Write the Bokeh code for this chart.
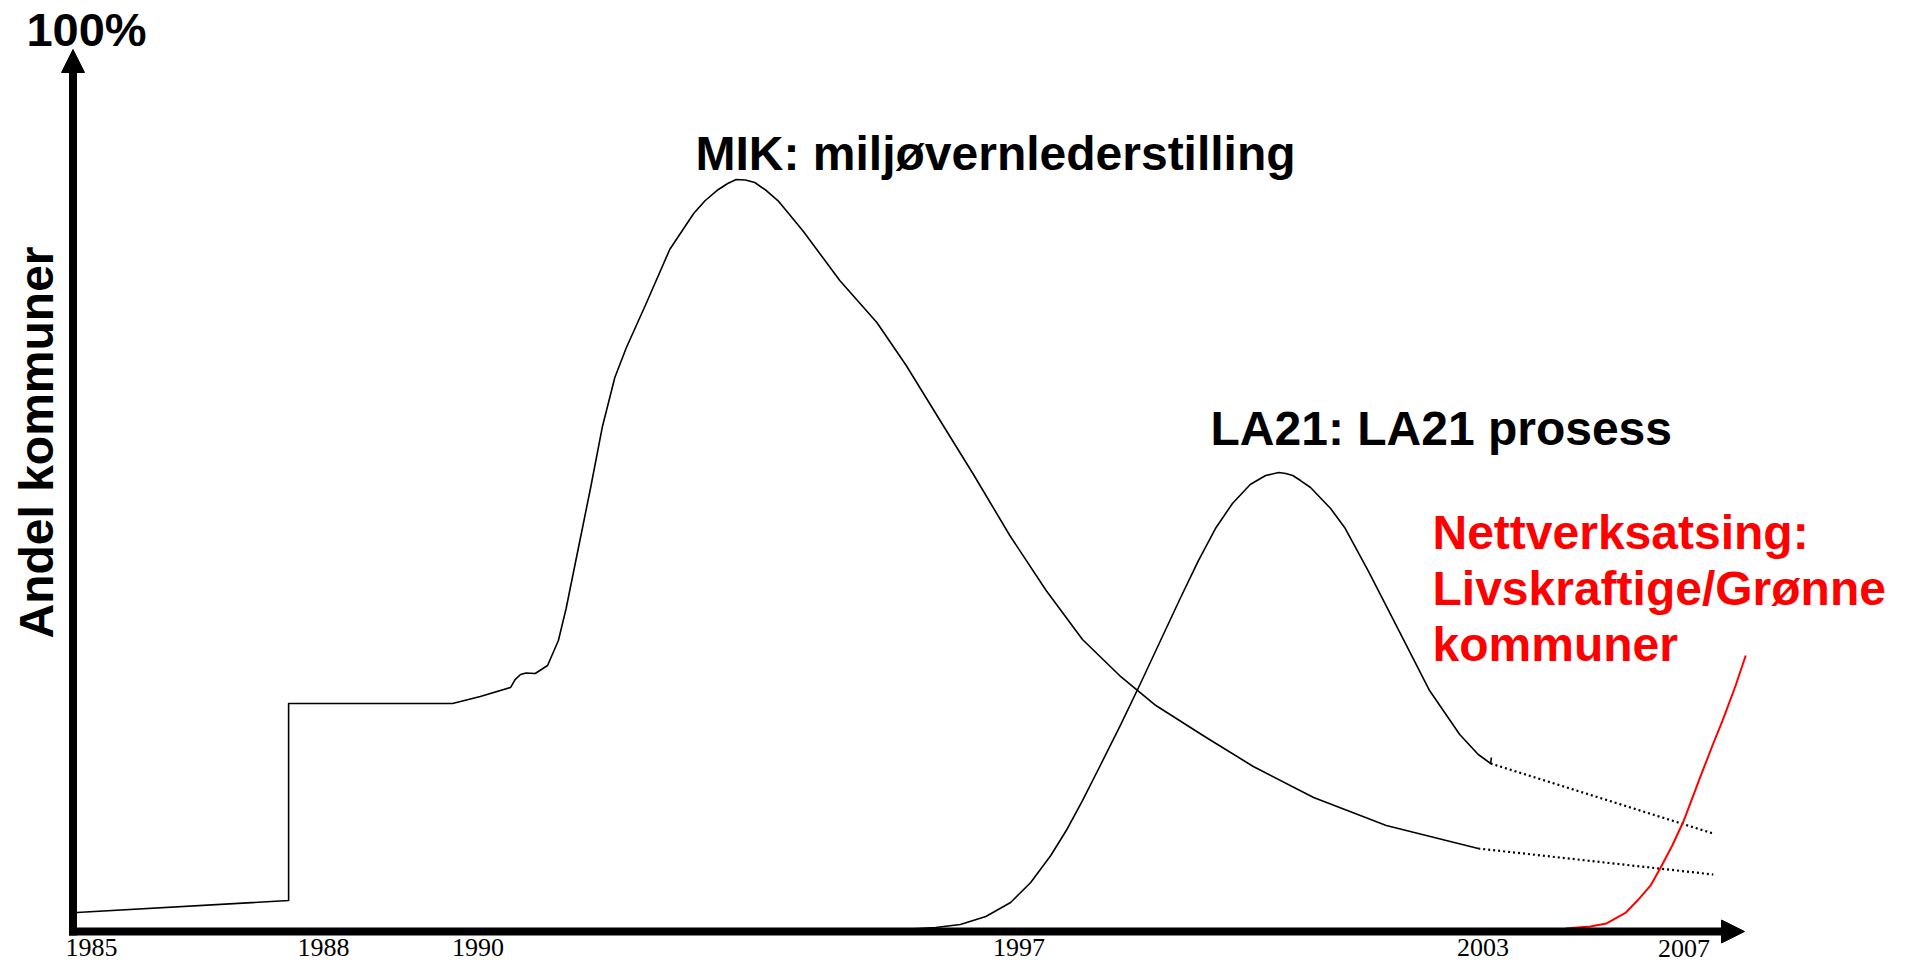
import numpy as np
from bokeh.plotting import figure
from bokeh.models import Range1d, Arrow, NormalHead
from bokeh.core.properties import value
from bokeh.embed import file_html
from bokeh.resources import INLINE

# ---------------- data (schematic: year on x, share of municipalities in % on y) ----------------
tick_years = [1985, 1988, 1990, 1997, 2003, 2005.6]   # where each tick label sits on the time axis
tick_labels = ["1985", "1988", "1990", "1997", "2003", "2007"]

# MIK: miljøvernlederstilling
mik_year = [1984.81, 1987.55, 1987.55, 1989.67, 1990.03, 1990.42, 1990.48, 1990.55, 1990.62,
            1990.74, 1990.90,
            1991.04, 1991.14, 1991.30, 1991.46, 1991.61, 1991.77, 1991.92, 1992.17, 1992.48,
            1992.79, 1992.94, 1993.11, 1993.23, 1993.34, 1993.46, 1993.58, 1993.73, 1993.89,
            1994.04, 1994.21, 1994.68, 1995.16, 1995.54,
            1995.93, 1996.41, 1996.88, 1997.35, 1997.82, 1998.30, 1998.77, 1999.40, 2000.03,
            2000.81, 2001.75, 2002.94]
mik_pct = [2.15, 3.51, 25.85, 25.85, 26.64, 27.66, 28.55, 29.14, 29.30,
           29.25, 30.16,
           32.99, 36.62, 43.54, 50.45, 57.26, 62.81, 66.21, 71.09, 77.32,
           81.41, 82.88, 84.13, 84.81, 85.26, 85.20, 84.92, 84.01, 82.77,
           81.18, 79.37, 73.81, 69.05, 64.17,
           58.62, 51.81, 44.90, 38.66, 33.11, 29.02, 25.62, 22.11, 18.71,
           15.19, 12.02, 9.41]
mik_trend_year = [2002.94, 2005.98]
mik_trend_pct = [9.41, 6.46]

# LA21: LA21 prosess
la21_year = [1995.47, 1995.92, 1996.24, 1996.57, 1996.89, 1997.15, 1997.41, 1997.61, 1997.82,
             1998.05, 1998.31, 1998.57, 1998.83, 1999.09, 1999.32, 1999.54, 1999.76, 1999.99,
             2000.10, 2000.19, 2000.36, 2000.45, 2000.54, 2000.64, 2000.77, 2001.03, 2001.22,
             2001.52, 2001.92, 2002.31, 2002.70, 2002.94, 2003.10, 2003.11]
la21_pct = [0.23, 0.45, 0.79, 1.70, 3.29, 5.56, 8.62, 11.45, 14.85,
            18.82, 23.36, 28.12, 32.99, 37.87, 42.06, 45.69, 48.53, 50.68,
            51.25, 51.70, 52.04, 51.93, 51.70, 51.13, 50.34, 47.96, 45.69,
            40.82, 34.01, 27.32, 22.34, 20.07, 19.05, 19.73]
la21_trend_year = [2003.10, 2005.98]
la21_trend_pct = [19.05, 11.11]

# Nettverksatsing: Livskraftige/Grønne kommuner
nett_year = [2004.07, 2004.39, 2004.60, 2004.85, 2005.00, 2005.17, 2005.30, 2005.45,
             2005.60, 2005.82, 2005.97, 2006.10, 2006.27, 2006.40]
nett_pct = [0.34, 0.57, 0.91, 2.15, 3.51, 5.22, 7.26, 9.75,
            12.59, 17.69, 21.09, 23.92, 27.89, 31.29]

title_mik = "MIK: miljøvernlederstilling"
title_la21 = "LA21: LA21 prosess"
title_nett = ["Nettverksatsing:", "Livskraftige/Grønne", "kommuner"]
y_title = "Andel kommuner"
y_top_label = "100%"

# ---------------- layout ----------------
W, H = 1900, 962
PX_YEAR = 77.3      # pixels per year
PX_PCT = 8.82       # pixels per percent
X0, Y0 = 91, 931    # canvas pixel of (1985, 0 %)
BASE_SHIFT = 0.38   # renderer puts the alphabetic baseline this many em below y


def fx(px):  # canvas pixel -> year
    return 1985 + (px - X0) / PX_YEAR


def fy(py):  # canvas pixel -> percent
    return (Y0 - py) / PX_PCT


p = figure(width=W, height=H, output_backend="svg", toolbar_location=None,
           x_range=Range1d(fx(0), fx(W)),
           y_range=Range1d(fy(H), fy(0)),
           x_axis_type=None, y_axis_type=None, min_border=0)
p.outline_line_color = None
p.background_fill_color = "white"
p.border_fill_color = "white"

# curves
p.line(mik_year, mik_pct, line_color="black", line_width=1.6, line_join="round")
p.line(mik_trend_year, mik_trend_pct, line_color="black", line_width=2.2, line_dash="2 3")
p.line(la21_year, la21_pct, line_color="black", line_width=1.6, line_join="round")
p.line(la21_trend_year, la21_trend_pct, line_color="black", line_width=2.2, line_dash="2 3")
p.line(nett_year, nett_pct, line_color="#ff0000", line_width=2, line_join="round")

# axes with arrow heads
p.add_layout(Arrow(end=NormalHead(size=23, fill_color="black", line_color="black", line_width=1),
                   x_start=fx(72.5), y_start=fy(935), x_end=fx(72.5), y_end=fy(49),
                   line_width=8, line_color="black", line_cap="butt"))
p.add_layout(Arrow(end=NormalHead(size=23, fill_color="black", line_color="black", line_width=1),
                   x_start=fx(68.5), y_start=0, x_end=fx(1744), y_end=0,
                   line_width=8, line_color="black", line_cap="butt"))


def ty(py, fs):  # canvas baseline pixel -> y value for a text glyph of size fs
    return fy(py - BASE_SHIFT * fs)


# tick labels
tick_base = [957] * (len(tick_labels) - 1) + [958]
p.text(x=tick_years, y=[ty(b, 26) for b in tick_base], text=tick_labels,
       text_font=value("Liberation Serif"), text_font_size=value("26px"),
       text_align="center", text_baseline="alphabetic", text_color="black")


def bold(fs):
    return dict(text_font=value("Liberation Sans"), text_font_style="bold",
                text_font_size=value(f"{fs}px"), text_baseline="alphabetic")


p.text(x=[fx(86)], y=[ty(47, 47)], text=[y_top_label], text_align="center",
       text_color="black", **bold(47))
p.text(x=[fx(54 - BASE_SHIFT * 48)], y=[fy(442)], text=[y_title], angle=np.pi / 2,
       text_align="center", text_color="black", **bold(48))
p.text(x=[fx(695)], y=[ty(171, 48)], text=[title_mik], text_align="left",
       text_color="black", **bold(48))
p.text(x=[fx(1210)], y=[ty(446, 48)], text=[title_la21], text_align="left",
       text_color="black", **bold(48))
p.text(x=[fx(1432)] * 3, y=[ty(550, 48), ty(606, 48), ty(662, 48)], text=title_nett,
       text_align="left", text_color="#ff0000", **bold(48))

open("out.html", "w").write(file_html(p, INLINE))
